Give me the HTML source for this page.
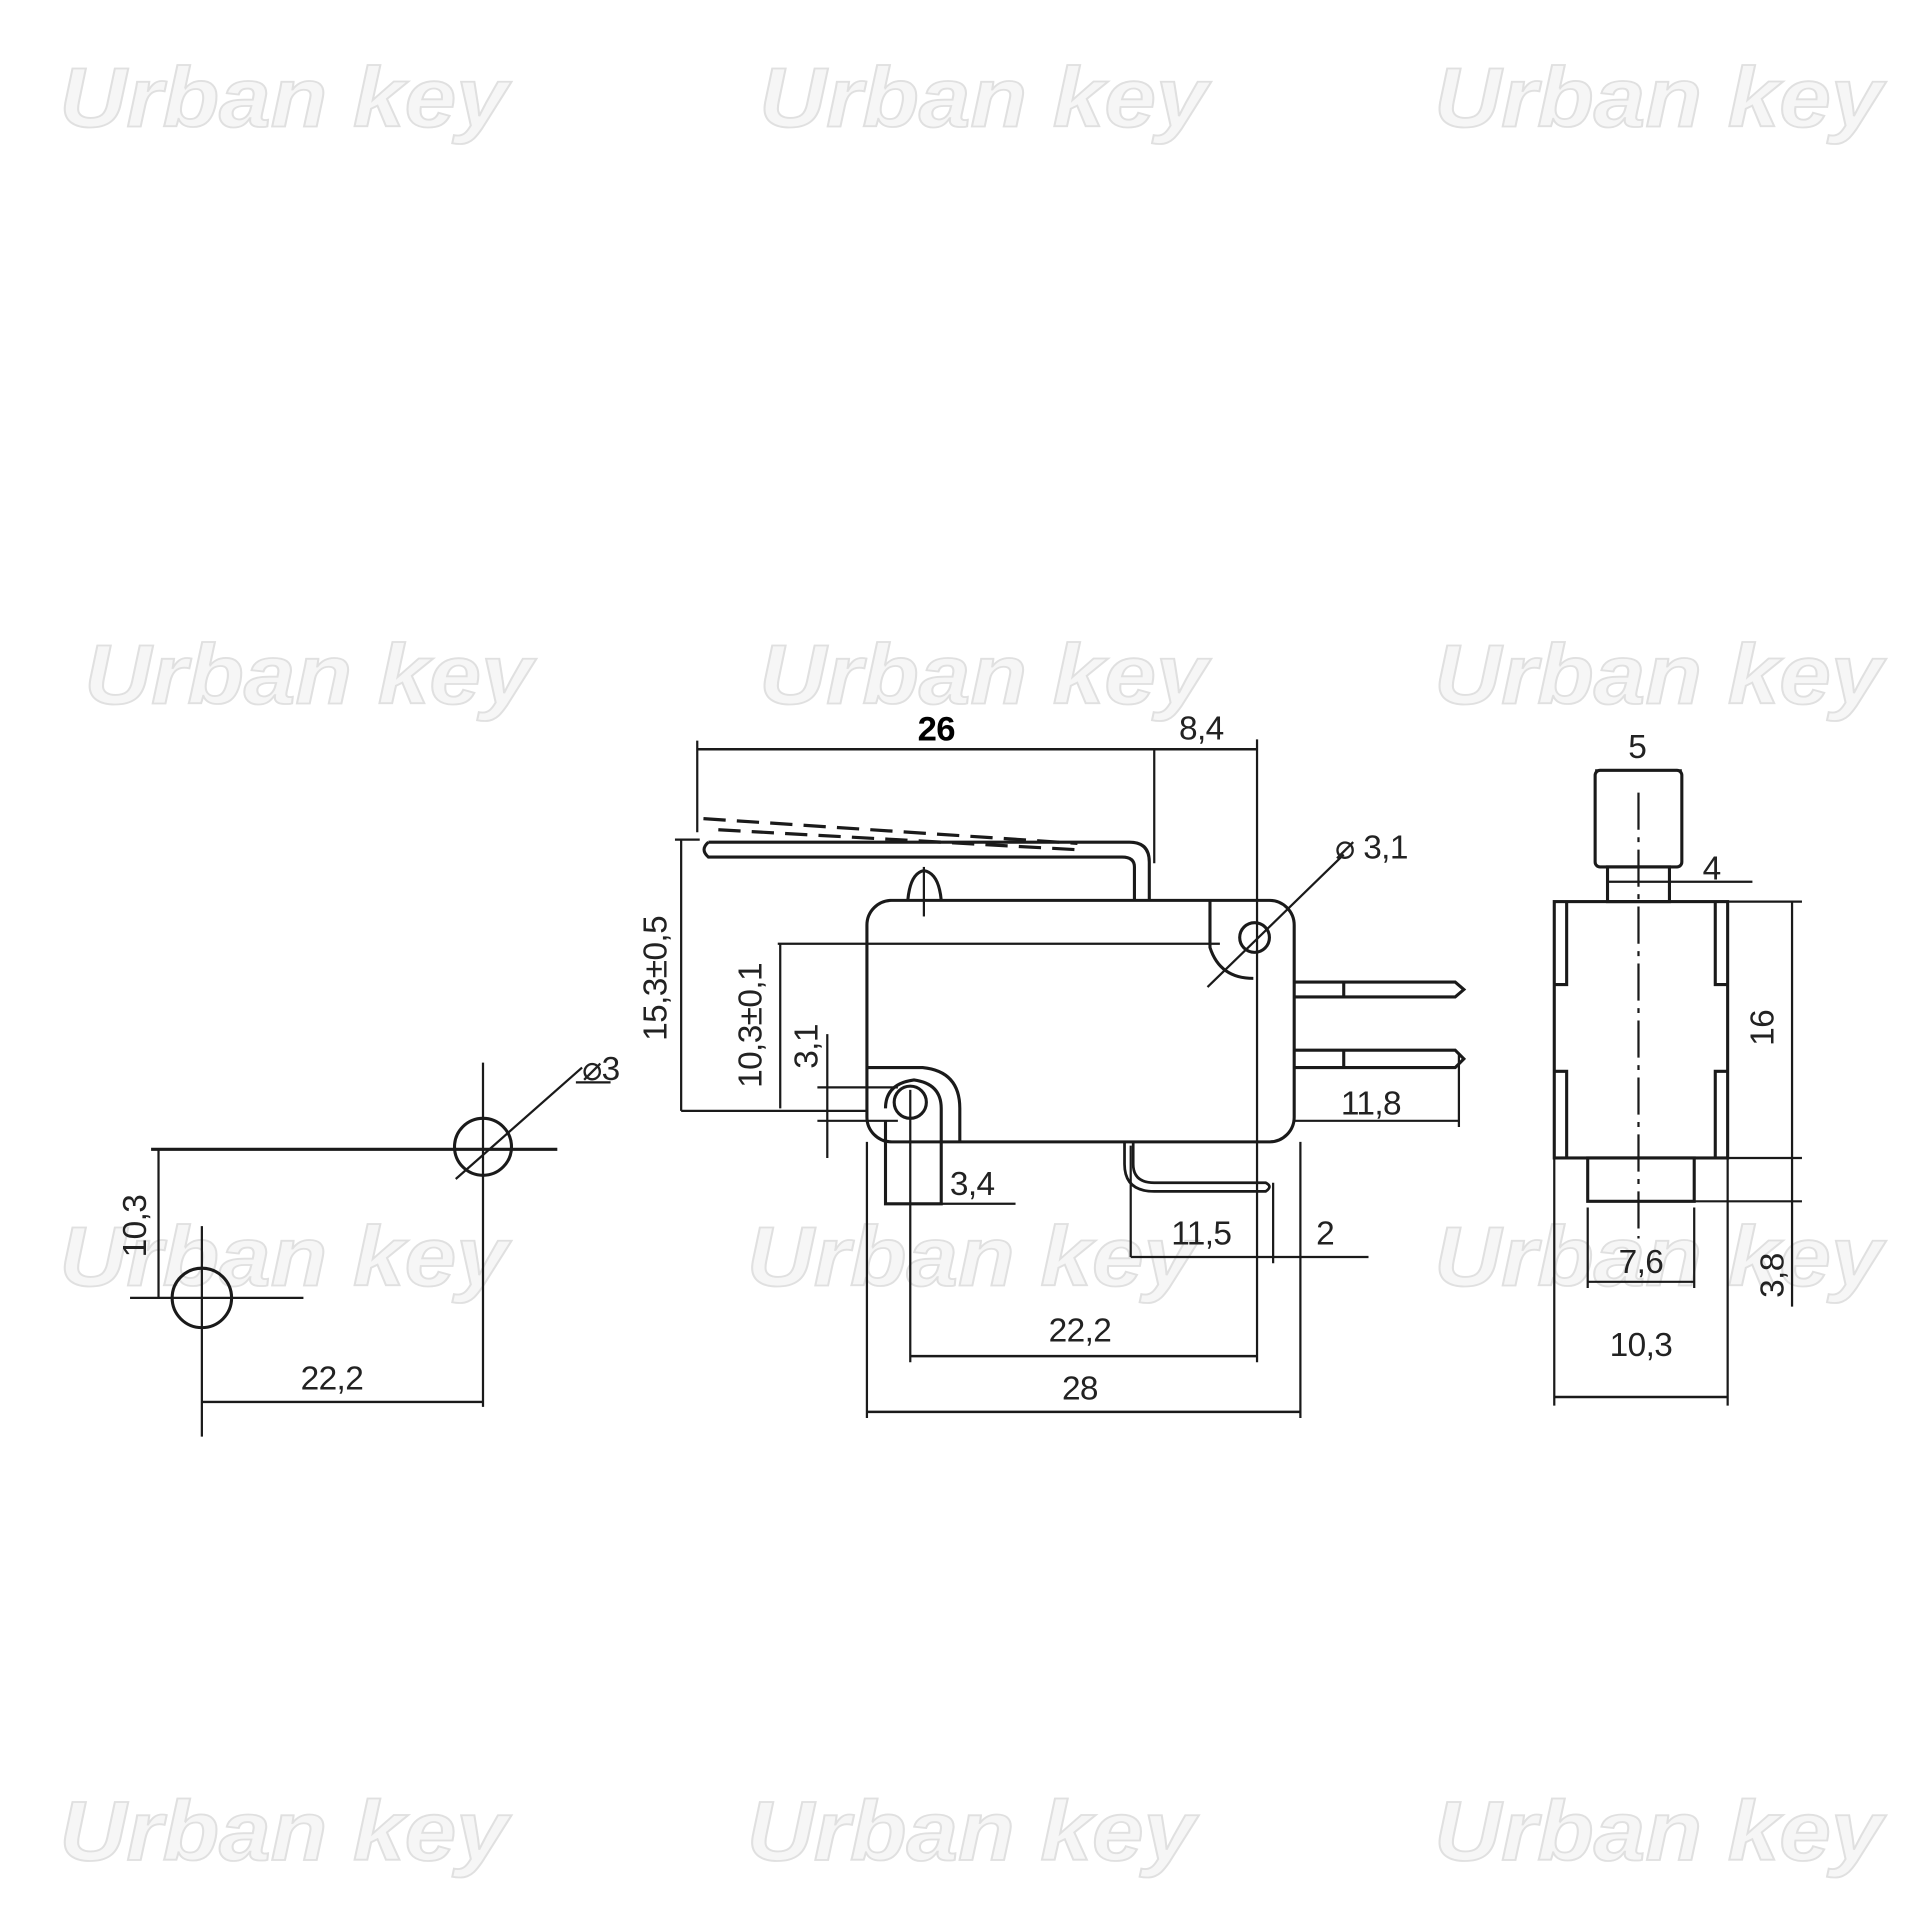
<!DOCTYPE html>
<html><head><meta charset="utf-8"><style>html,body{margin:0;padding:0;background:#fff}svg{display:block}</style></head>
<body>
<svg width="1932" height="1932" viewBox="0 0 1560 1560" xmlns="http://www.w3.org/2000/svg" font-family="Liberation Sans, sans-serif">
<g font-size="68" font-weight="bold" font-style="italic" fill="#f6f6f6" stroke="#e0e0e0" stroke-width="1.5">
<text x="48" y="102" textLength="362" lengthAdjust="spacingAndGlyphs">Urban key</text><text x="613" y="102" textLength="362" lengthAdjust="spacingAndGlyphs">Urban key</text><text x="1158" y="102" textLength="362" lengthAdjust="spacingAndGlyphs">Urban key</text>
<text x="68" y="568" textLength="362" lengthAdjust="spacingAndGlyphs">Urban key</text><text x="613" y="568" textLength="362" lengthAdjust="spacingAndGlyphs">Urban key</text><text x="1158" y="568" textLength="362" lengthAdjust="spacingAndGlyphs">Urban key</text>
<text x="48" y="1038" textLength="362" lengthAdjust="spacingAndGlyphs">Urban key</text><text x="603" y="1038" textLength="362" lengthAdjust="spacingAndGlyphs">Urban key</text><text x="1158" y="1038" textLength="362" lengthAdjust="spacingAndGlyphs">Urban key</text>
<text x="48" y="1502" textLength="362" lengthAdjust="spacingAndGlyphs">Urban key</text><text x="603" y="1502" textLength="362" lengthAdjust="spacingAndGlyphs">Urban key</text><text x="1158" y="1502" textLength="362" lengthAdjust="spacingAndGlyphs">Urban key</text>
</g>
<g fill="none" stroke="#1a1a1a" stroke-width="2.5">
<circle cx="163" cy="1048" r="24"/>
<line x1="105" y1="1048" x2="245" y2="1048" stroke-width="1.8"/>
<line x1="163" y1="990" x2="163" y2="1160" stroke-width="1.8"/>
<circle cx="390" cy="926" r="23"/>
<line x1="122" y1="928" x2="450" y2="928"/>
<line x1="390" y1="858" x2="390" y2="1136" stroke-width="1.8"/>
<line x1="368" y1="952" x2="470" y2="862" stroke-width="1.8"/>
<line x1="465" y1="874" x2="493" y2="874" stroke-width="1.8"/>
<line x1="128" y1="928" x2="128" y2="1048" stroke-width="1.8"/>
<line x1="163" y1="1132" x2="390" y2="1132" stroke-width="2"/>
<line x1="563" y1="605" x2="1015" y2="605" stroke-width="2"/>
<line x1="563" y1="598" x2="563" y2="672" stroke-width="1.8"/>
<line x1="932" y1="605" x2="932" y2="697" stroke-width="1.8"/>
<line x1="1015" y1="597" x2="1015" y2="1100" stroke-width="1.8"/>
<path d="M568 661 L870 681 M580 670 L868 686" stroke-dasharray="18 9" stroke-width="2.6"/>
<path d="M572 680 L912 680 Q928 680 928 696 L928 727 M916 727 L916 700 Q916 692 906 692 L572 692 Q565 686 572 680"/>
<path d="M733 727 Q735 705 746 703 Q758 705 760 727"/>
<line x1="746" y1="700" x2="746" y2="740" stroke-width="1.8"/>
<rect x="700" y="727" width="345" height="195" rx="20"/>
<path d="M977 727 L977 765 Q985 790 1012 790"/>
<circle cx="1013" cy="757" r="12"/>
<line x1="975" y1="797" x2="1085" y2="690" stroke-width="1.8"/>
<line x1="628" y1="762" x2="985" y2="762" stroke-width="1.8"/>
<path d="M1045 793 L1175 793 L1182 799 L1175 805 L1045 805 M1085 793 L1085 805"/>
<path d="M1045 848 L1175 848 L1182 855 L1175 862 L1045 862 M1085 848 L1085 862"/>
<line x1="1178" y1="850" x2="1178" y2="910" stroke-width="1.8"/>
<line x1="1045" y1="905" x2="1178" y2="905" stroke-width="1.8"/>
<path d="M700 862 L745 862 Q775 865 775 895 L775 922"/>
<path d="M715 905 L715 972 L760 972 L760 895 Q760 875 738 872 Q715 875 715 895"/>
<circle cx="735" cy="890" r="13"/>
<line x1="668" y1="835" x2="668" y2="935" stroke-width="1.8"/>
<line x1="660" y1="878" x2="725" y2="878" stroke-width="1.8"/>
<line x1="660" y1="905" x2="725" y2="905" stroke-width="1.8"/>
<line x1="630" y1="762" x2="630" y2="895" stroke-width="1.8"/>
<line x1="550" y1="678" x2="550" y2="897" stroke-width="1.8"/>
<line x1="545" y1="678" x2="565" y2="678" stroke-width="1.8"/>
<line x1="550" y1="897" x2="700" y2="897" stroke-width="1.8"/>
<line x1="715" y1="972" x2="820" y2="972" stroke-width="1.8"/>
<line x1="735" y1="880" x2="735" y2="1100" stroke-width="1.8"/>
<path d="M915 922 L915 940 Q915 955 932 955 L1022 955 Q1028 958 1022 962 L932 962 Q908 962 908 940 L908 922" stroke-width="2.2"/>
<line x1="913" y1="925" x2="913" y2="1015" stroke-width="1.8"/>
<line x1="1028" y1="955" x2="1028" y2="1020" stroke-width="1.8"/>
<line x1="913" y1="1015" x2="1105" y2="1015" stroke-width="1.8"/>
<line x1="735" y1="1095" x2="1015" y2="1095" stroke-width="2"/>
<line x1="700" y1="922" x2="700" y2="1145" stroke-width="1.8"/>
<line x1="1050" y1="922" x2="1050" y2="1145" stroke-width="1.8"/>
<line x1="700" y1="1140" x2="1050" y2="1140" stroke-width="2"/>
<rect x="1288" y="622" width="70" height="78" rx="4"/>
<line x1="1288" y1="622" x2="1358" y2="622" stroke-width="1.8"/>
<rect x="1298" y="700" width="50" height="28"/>
<line x1="1298" y1="712" x2="1415" y2="712" stroke-width="1.8"/>
<rect x="1255" y="728" width="140" height="207"/>
<path d="M1265 728 L1265 795 L1255 795 M1265 935 L1265 865 L1255 865 M1385 728 L1385 795 L1395 795 M1385 935 L1385 865 L1395 865"/>
<rect x="1282" y="935" width="86" height="35"/>
<line x1="1255" y1="935" x2="1255" y2="1135" stroke-width="1.8"/>
<line x1="1395" y1="935" x2="1395" y2="1135" stroke-width="1.8"/>
<line x1="1395" y1="728" x2="1455" y2="728" stroke-width="1.8"/>
<line x1="1395" y1="935" x2="1455" y2="935" stroke-width="1.8"/>
<line x1="1447" y1="728" x2="1447" y2="1055" stroke-width="1.8"/>
<line x1="1368" y1="970" x2="1455" y2="970" stroke-width="1.8"/>
<line x1="1282" y1="975" x2="1282" y2="1040" stroke-width="1.8"/>
<line x1="1368" y1="975" x2="1368" y2="1040" stroke-width="1.8"/>
<line x1="1282" y1="1035" x2="1368" y2="1035" stroke-width="1.8"/>
<line x1="1255" y1="1128" x2="1395" y2="1128" stroke-width="2"/>
<line x1="1323" y1="640" x2="1323" y2="1000" stroke-width="1.8" stroke-dasharray="30 6 4 6"/>
</g>
<g fill="#222" font-size="27" letter-spacing="-0.5">
<text x="756" y="598" font-size="28" font-weight="bold" fill="#000" text-anchor="middle">26</text>
<text x="970" y="597" text-anchor="middle">8,4</text>
<text x="1078" y="693">⌀ 3,1</text>
<text x="1107" y="900" text-anchor="middle">11,8</text>
<text x="785" y="965" text-anchor="middle">3,4</text>
<text x="970" y="1005" text-anchor="middle">11,5</text>
<text x="1070" y="1005" text-anchor="middle">2</text>
<text x="872" y="1083" text-anchor="middle">22,2</text>
<text x="872" y="1130" text-anchor="middle">28</text>
<text x="268" y="1122" text-anchor="middle">22,2</text>
<text x="470" y="872">⌀3</text>
<text x="1322" y="612" text-anchor="middle">5</text>
<text x="1382" y="710" text-anchor="middle">4</text>
<text x="1325" y="1028" text-anchor="middle">7,6</text>
<text x="1325" y="1095" text-anchor="middle">10,3</text>
<text transform="translate(118,990) rotate(-90)" text-anchor="middle">10,3</text>
<text transform="translate(538,790) rotate(-90)" text-anchor="middle">15,3±0,5</text>
<text transform="translate(615,828) rotate(-90)" text-anchor="middle">10,3±0,1</text>
<text transform="translate(660,845) rotate(-90)" text-anchor="middle">3,1</text>
<text transform="translate(1432,830) rotate(-90)" text-anchor="middle">16</text>
<text transform="translate(1440,1030) rotate(-90)" text-anchor="middle">3,8</text>
</g>
</svg>
</body></html>
